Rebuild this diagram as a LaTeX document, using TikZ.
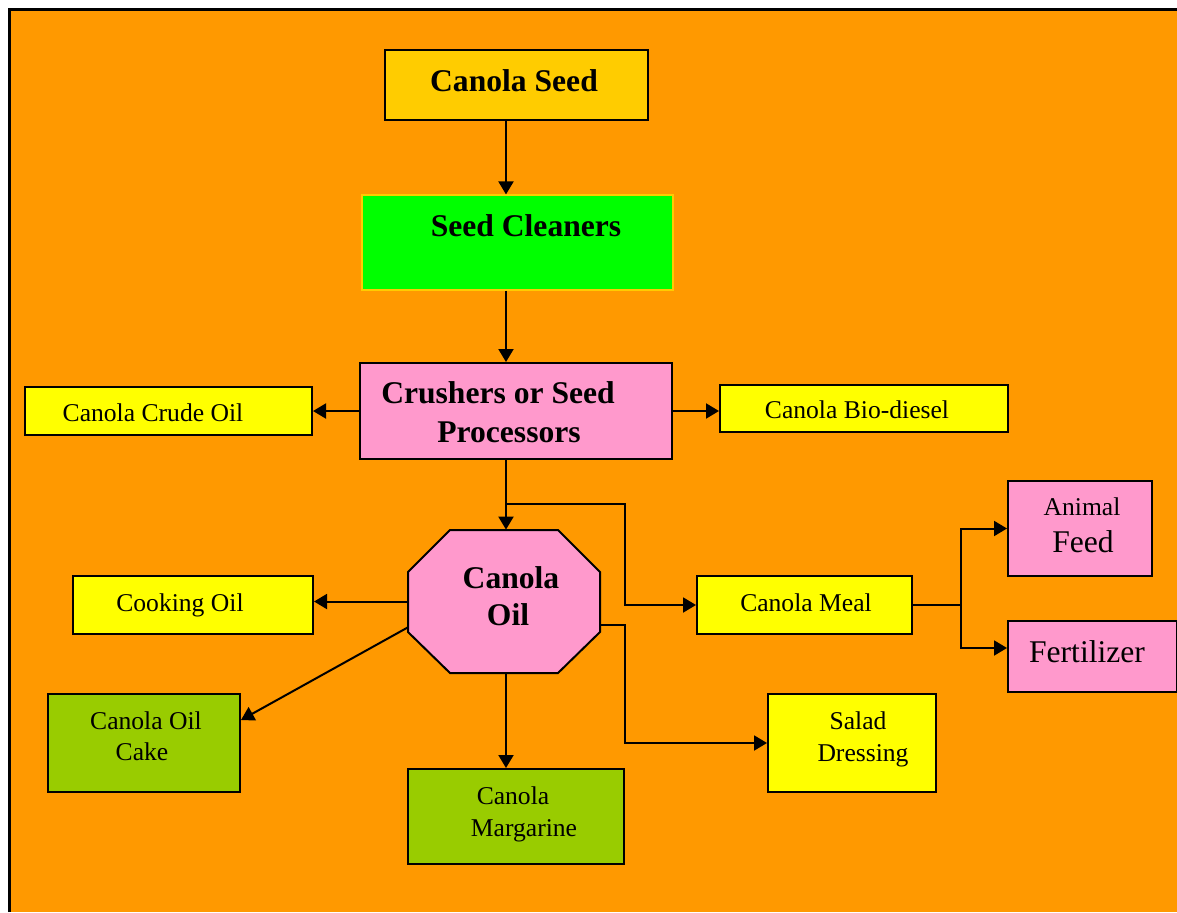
\documentclass[tikz,border=0pt]{standalone}
\usepackage{fontspec}
\setmainfont{Liberation Serif}
\usetikzlibrary{arrows.meta,calc}
\definecolor{bgorange}{HTML}{FF9900}
\definecolor{gold}{HTML}{FFCC00}
\definecolor{brightgreen}{HTML}{00FF00}
\definecolor{pinkbox}{HTML}{FF99CC}
\definecolor{yellowbox}{HTML}{FFFF00}
\definecolor{olivebox}{HTML}{99CC00}
\begin{document}
\begin{tikzpicture}[x=0.5pt,y=-0.5pt,
  box/.style={draw=black,line width=1pt,inner sep=0pt},
  reg/.style={anchor=base,inner sep=0pt,font=\fontsize{12.8}{15}\selectfont},
  big/.style={anchor=base,inner sep=0pt,font=\fontsize{15.8}{19}\selectfont},
  bld/.style={anchor=base,inner sep=0pt,font=\fontsize{15.8}{19}\selectfont\bfseries},
  arr/.style={line width=1pt,-{Triangle[length=6.5pt,width=7.5pt]}},
  conn/.style={line width=1pt}]
\useasboundingbox (0,0) rectangle (1177,912);
\fill[bgorange] (9.5,9.5) rectangle (1177,912);
\draw[line width=1.5pt] (9.5,912) -- (9.5,9.5) -- (1177,9.5);

% boxes
\node[box,fill=gold,minimum width=131.5pt,minimum height=35pt] (seed) at (516.5,85) {};
\node[box,draw=gold,line width=0.6pt,fill=brightgreen,minimum width=155.5pt,minimum height=47.5pt] (clean) at (517.5,242.5) {};
\node[box,fill=pinkbox,minimum width=156pt,minimum height=48pt] (crush) at (516,411) {};
\node[box,fill=yellowbox,minimum width=143.5pt,minimum height=24pt] (crude) at (168.5,411) {};
\node[box,fill=yellowbox,minimum width=144pt,minimum height=23.5pt] (bio) at (864,408.5) {};
\node[inner sep=0pt,minimum width=96pt,minimum height=71.5pt] (oil) at (504,601.5) {};
\filldraw[fill=pinkbox,draw=black,line width=1pt,line join=miter]
  (450,530) -- (558,530) -- (600,572) -- (600,632) -- (558,673) -- (450,673) -- (408,632) -- (408,572) -- cycle;
\node[box,fill=yellowbox,minimum width=120pt,minimum height=29pt] (cook) at (193,605) {};
\node[box,fill=yellowbox,minimum width=107.5pt,minimum height=29pt] (meal) at (804.5,605) {};
\node[box,fill=pinkbox,minimum width=72pt,minimum height=47.5pt] (feed) at (1080,528.5) {};
\node[box,fill=pinkbox,minimum width=84.5pt,minimum height=35.5pt] (fert) at (1092.5,656.5) {};
\node[box,fill=olivebox,minimum width=96pt,minimum height=49pt] (cake) at (144,743) {};
\node[box,fill=olivebox,minimum width=108pt,minimum height=47.5pt] (marg) at (516,816.5) {};
\node[box,fill=yellowbox,minimum width=84pt,minimum height=49pt] (salad) at (852,743) {};

% texts
\node[bld] (tseed) at (514,91.5) {Canola Seed};
\node[bld] (tclean) at (526,236.5) {Seed Cleaners};
\node[bld] (tcrush1) at (498,403.5) {Crushers or Seed};
\node[bld] (tcrush2) at (509,442.5) {Processors};
\node[reg] (tcrude) at (153,421.5) {Canola Crude Oil};
\node[reg] (tbio) at (857,418.5) {Canola Bio-diesel};
\node[bld] (toil1) at (511,588.5) {Canola};
\node[bld] (toil2) at (508,625.5) {Oil};
\node[reg] (tcook) at (180,611.5) {Cooking Oil};
\node[reg] (tmeal) at (806,611.5) {Canola Meal};
\node[reg] (tfeed1) at (1082,515.5) {Animal};
\node[big] (tfeed2) at (1083,552.5) {Feed};
\node[big] (tfert) at (1087,662.5) {Fertilizer};
\node[reg] (tcake1) at (146,729.5) {Canola Oil};
\node[reg] (tcake2) at (142,760.5) {Cake};
\node[reg] (tmarg1) at (513,804.5) {Canola};
\node[reg] (tmarg2) at (524,836.5) {Margarine};
\node[reg] (tsalad1) at (858,729.5) {Salad};
\node[reg] (tsalad2) at (863,761.5) {Dressing};

% connectors
\coordinate (spine) at (506,0);
\coordinate (jx) at (625,0);
\coordinate (br) at (506,504);
\draw[arr] (seed.south -| spine) -- (clean.north -| spine);
\draw[arr] (clean.south -| spine) -- (crush.north -| spine);
\draw[arr] (crush.west) -- (crude.east);
\draw[arr] (crush.east) -- (crush.east -| bio.west);
\draw[arr] (crush.south -| spine) -- (oil.north -| spine);
\draw[arr] (br) -- (br -| jx) |- (meal.west);
\draw[arr] (oil.west) -- (oil.west -| cook.east);
\draw[arr] ($(oil.west)+(0,26)$) -- ($(cake.north east)!0.27!(cake.south east)$);
\draw[arr] (oil.south -| spine) -- (marg.north -| spine);
\coordinate (oe) at ($(oil.east)+(0,23.5)$);
\draw[arr] (oe) -- (oe -| jx) |- (salad.west);
\coordinate (fk) at ($(meal.east)+(48,0)$);
\draw[conn] (meal.east) -- (fk);
\draw[arr] (fk) |- (feed.west);
\draw[arr] (fk) |- ($(fert.west)+(0,-8.5)$);
\end{tikzpicture}
\end{document}
